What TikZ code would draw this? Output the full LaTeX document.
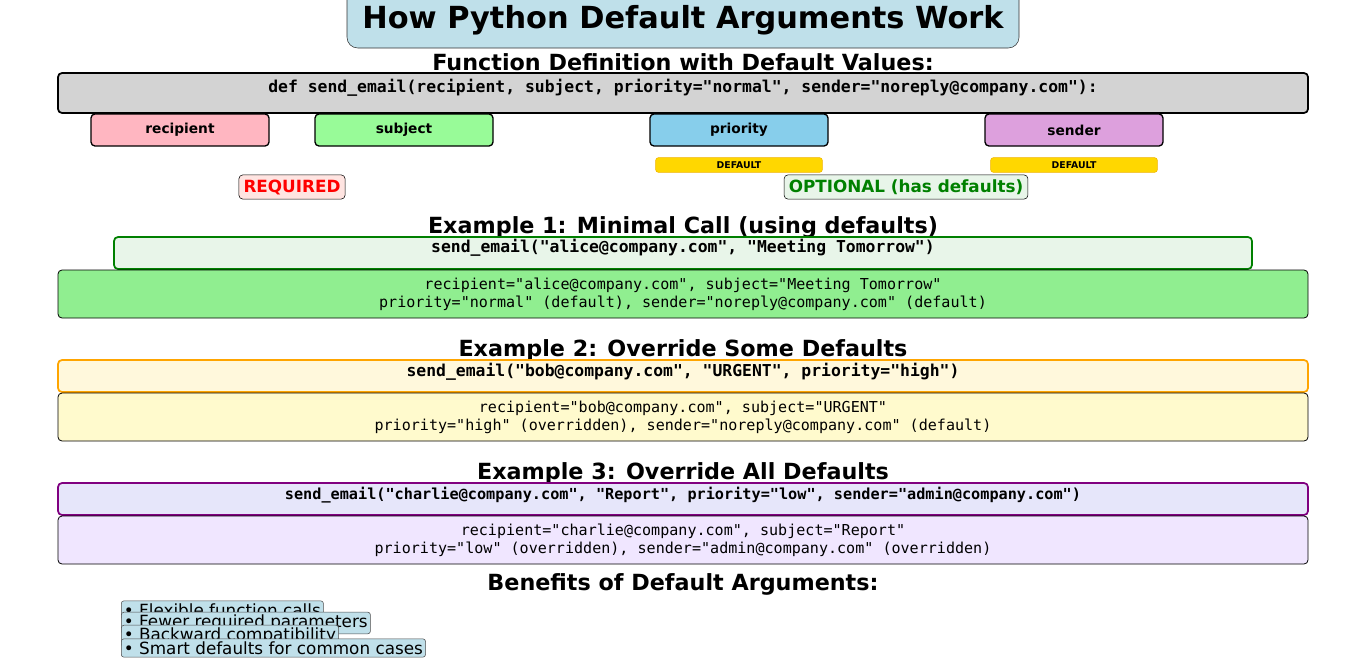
\documentclass[tikz,border=0pt]{standalone}
\usepackage{fontspec}
\setmainfont{DejaVu Sans}
\setmonofont{DejaVu Sans Mono}
\usetikzlibrary{positioning}
\definecolor{titlebg}{HTML}{BFE0EA}
\definecolor{defgray}{HTML}{D3D3D3}
\definecolor{pink}{HTML}{FFB6C1}
\definecolor{palegreen}{HTML}{98FB98}
\definecolor{skyblue}{HTML}{87CEEB}
\definecolor{plum}{HTML}{DDA0DD}
\definecolor{gold}{HTML}{FFD700}
\definecolor{goldedge}{HTML}{F0B400}
\definecolor{misty}{HTML}{FFE4E1}
\definecolor{optbg}{HTML}{E8F5E9}
\definecolor{okgreen}{HTML}{008000}
\definecolor{lightgreen}{HTML}{90EE90}
\definecolor{cornsilk}{HTML}{FFF8DC}
\definecolor{lemon}{HTML}{FFFACD}
\definecolor{orange}{HTML}{FFA500}
\definecolor{lavender}{HTML}{E6E6FA}
\definecolor{lavres}{HTML}{F0E6FF}
\definecolor{purple}{HTML}{800080}
\definecolor{bulletbg}{HTML}{C0E0EA}
\begin{document}
\begin{tikzpicture}[x=0.75pt,y=-0.75pt,
  heading/.style={font=\bfseries\fontsize{16.7}{20}\selectfont},
  param/.style={draw,rounded corners=3pt,line width=1pt,minimum width=133.5pt,minimum height=24pt,font=\bfseries\fontsize{10.3}{12}\selectfont},
  defbadge/.style={draw=goldedge,fill=gold,rounded corners=2pt,minimum width=125pt,minimum height=11pt,inner sep=0pt,font=\bfseries\fontsize{7}{8}\selectfont},
  codebox/.style={rounded corners=3pt,line width=1.3pt},
  resbox/.style={draw,rounded corners=3pt,line width=0.6pt},
  code/.style={font=\ttfamily\bfseries\fontsize{12.3}{14}\selectfont},
  res/.style={align=center,font=\ttfamily\fontsize{11.3}{13.5}\selectfont},
  bullet/.style={draw=black!70,fill=bulletbg,rounded corners=2pt,inner sep=2pt,anchor=west,font=\fontsize{12.6}{13}\selectfont}]
  \useasboundingbox (0,0) rectangle (1366,671);

  % title
  \draw[fill=titlebg,rounded corners=8pt,draw=black!80] (347,-12) rectangle (1019,48);
  \node[font=\bfseries\fontsize{22.8}{26}\selectfont] (title) at (683,20) {How Python Default Arguments Work};

  % definition
  \node[heading] (defhead) at (683,62) {Function Definition with Default Values:};
  \draw[codebox,draw=black,fill=defgray] (58,73) rectangle (1308,113);
  \node[code] (defline) at (683,88) {def send\_email(recipient, subject, priority="normal", sender="noreply@company.com"):};

  \node[param,fill=pink]      (recipient) at (180,130)  {recipient};
  \node[param,fill=palegreen] (subject)   at (404,130)  {subject};
  \node[param,fill=skyblue]   (priority)  at (739,130)  {priority};
  \node[param,fill=plum]      (sender)    at (1074,130) {sender};
  \node[defbadge] (prioritydef) at (739,165)  {DEFAULT};
  \node[defbadge] (senderdef)   at (1074,165) {DEFAULT};

  \node[draw,fill=misty,rounded corners=3pt,text=red,inner sep=3.5pt,font=\bfseries\fontsize{12.6}{14}\selectfont] (required) at (292,187) {REQUIRED};
  \node[draw,fill=optbg,rounded corners=3pt,text=okgreen,inner sep=3.5pt,font=\bfseries\fontsize{12.6}{14}\selectfont] (optional) at (906,187) {OPTIONAL (has defaults)};

  % example 1
  \node[heading] (ex1head) at (683,227) {Example 1: Minimal Call (using defaults)};
  \draw[codebox,draw=okgreen,fill=optbg] (114,237) rectangle (1252,269);
  \node[code] (ex1call) at (683,248) {send\_email("alice@company.com", "Meeting Tomorrow")};
  \draw[resbox,fill=lightgreen] (58,270) rectangle (1308,318);
  \node[res] (ex1res) at (683,294) {recipient="alice@company.com", subject="Meeting Tomorrow"\\priority="normal" (default), sender="noreply@company.com" (default)};

  % example 2
  \node[heading] (ex2head) at (683,350) {Example 2: Override Some Defaults};
  \draw[codebox,draw=orange,fill=cornsilk] (58,360) rectangle (1308,392);
  \node[code] (ex2call) at (683,372) {send\_email("bob@company.com", "URGENT", priority="high")};
  \draw[resbox,fill=lemon] (58,393) rectangle (1308,441);
  \node[res] (ex2res) at (683,417) {recipient="bob@company.com", subject="URGENT"\\priority="high" (overridden), sender="noreply@company.com" (default)};

  % example 3
  \node[heading] (ex3head) at (683,473) {Example 3: Override All Defaults};
  \draw[codebox,draw=purple,fill=lavender] (58,483) rectangle (1308,515);
  \node[code,font=\ttfamily\bfseries\fontsize{11.4}{13}\selectfont] (ex3call) at (683,495) {send\_email("charlie@company.com", "Report", priority="low", sender="admin@company.com")};
  \draw[resbox,fill=lavres] (58,516) rectangle (1308,564);
  \node[res] (ex3res) at (683,540) {recipient="charlie@company.com", subject="Report"\\priority="low" (overridden), sender="admin@company.com" (overridden)};

  % benefits
  \node[heading] (benhead) at (683,584) {Benefits of Default Arguments:};
  \node[bullet] (ben1) at (121,610) {• Flexible function calls};
  \node[bullet] (ben2) at (121,623) {• Fewer required parameters};
  \node[bullet] (ben3) at (121,636) {• Backward compatibility};
  \node[bullet] (ben4) at (121,648) {• Smart defaults for common cases};
\end{tikzpicture}
\end{document}
